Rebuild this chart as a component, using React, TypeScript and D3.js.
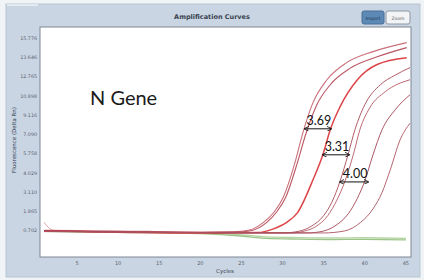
import * as d3 from "d3"

// cycles on x, fluorescence in "tick index" units on y (the instrument's tick labels are not evenly valued)
const yTickLabels = ["0.702", "1.865", "3.110", "4.029", "5.758", "7.090", "9.116", "10.898", "12.765", "13.646", "15.776"]
const xTicks = [5, 10, 15, 20, 25, 30, 35, 40, 45]

type Pt = [number, number]

const curveC1: Pt[] = [[1, 0.04], [10, 0.0], [20, -0.05], [24, -0.04], [26, 0.05], [27.6, 0.42], [29, 1.0], [30.1, 1.77], [31.5, 3.54], [32.4, 5.0], [33.7, 6.67], [35.4, 7.86], [37.8, 8.75], [41.0, 9.32], [45.1, 9.79]]
const curveC2: Pt[] = [[1, 0.0], [20, -0.08], [24.3, -0.06], [26.3, 0.03], [28.0, 0.42], [29.3, 1.0], [30.4, 1.77], [31.8, 3.54], [32.8, 5.0], [34.1, 6.5], [35.8, 7.6], [38.2, 8.45], [41.5, 9.05], [45.1, 9.53]]
const curveC3: Pt[] = [[1, 0.02], [20, -0.1], [27, -0.08], [28.8, 0.1], [30.5, 0.45], [31.8, 0.94], [33.7, 2.66], [34.9, 3.96], [35.8, 5.26], [37.0, 6.46], [39.1, 7.86], [41.5, 8.65], [45.1, 9.0]]
const curveC4: Pt[] = [[1, 0.0], [30, -0.1], [32.1, 0.0], [33.5, 0.25], [35.0, 0.8], [36.0, 1.5], [37.0, 2.6], [37.96, 3.96], [38.8, 5.26], [40.0, 6.56], [41.9, 7.6], [43.7, 8.1], [45.5, 8.49]]
const curveC5: Pt[] = [[1, -0.02], [31, -0.1], [32.7, 0.0], [34.0, 0.22], [35.5, 0.8], [36.6, 1.6], [37.6, 2.6], [38.6, 3.96], [39.4, 5.26], [40.6, 6.4], [42.5, 7.24], [45.5, 7.86]]
const curveC6: Pt[] = [[1, 0.0], [33, -0.1], [35, 0.0], [36.5, 0.3], [38.0, 0.9], [39.1, 1.7], [40.0, 2.6], [41.0, 3.96], [42.1, 5.26], [43.7, 6.3], [45.5, 7.08]]
const curveC7: Pt[] = [[1, -0.03], [35, -0.1], [37.5, 0.0], [39.5, 0.45], [41.0, 1.15], [42.1, 2.0], [43.1, 3.18], [44.3, 4.74], [45.5, 5.6]]
const curveStart: Pt[] = [[1, 0.45], [2, 0.05], [3, 0.0], [10, -0.05], [20, -0.1]]
const greenA: Pt[] = [[1, 0.0], [10, -0.05], [20, -0.1], [25, -0.2], [28, -0.3], [32, -0.34], [36, -0.36], [40, -0.35], [45, -0.38]]
const greenB: Pt[] = [[1, -0.02], [10, -0.07], [20, -0.14], [25, -0.26], [28, -0.38], [32, -0.42], [36, -0.44], [40, -0.43], [45, -0.46]]

const redCurves = [
  { pts: curveC1, color: "#c4606c", w: 1.1 },
  { pts: curveC2, color: "#b34451", w: 1.1 },
  { pts: curveC3, color: "#d83034", w: 1.5 },
  { pts: curveC4, color: "#a84a58", w: 1 },
  { pts: curveC5, color: "#b45864", w: 1 },
  { pts: curveC6, color: "#a04654", w: 1 },
  { pts: curveC7, color: "#ac5260", w: 1 },
]

// delta Ct annotations
const deltaLabels = ["3.69", "3.31", "4.00"]
const deltaFrom = [32.7, 34.9, 37.0]
const deltaTo = [35.9, 38.1, 40.4]
const deltaLevel = [5.31, 3.96, 2.55]

export default function App() {
  const width = 424
  const height = 280
  const plot = { left: 40, right: 411, top: 27, bottom: 257 }

  const x = d3.scaleLinear().domain([0.5, 45.5]).range([plot.left, plot.right - 1])
  const y = d3.scaleLinear().domain([-1.35, 10.6]).range([plot.bottom, plot.top])

  const line = d3
    .line<Pt>()
    .x((d) => x(d[0]))
    .y((d) => y(d[1]))
    .curve(d3.curveMonotoneX)

  return (
    <div>
      <style>{`body{margin:0}`}</style>
      <svg width={width} height={height} style={{ display: "block", fontFamily: "'DejaVu Sans', sans-serif" }}>
        <defs>
          <clipPath id="plotClip">
            <rect x={plot.left} y={plot.top} width={plot.right - plot.left} height={plot.bottom - plot.top} />
          </clipPath>
          <filter id="soft" x="-5%" y="-5%" width="110%" height="110%">
            <feGaussianBlur stdDeviation={0.35} />
          </filter>
          <marker id="arr" viewBox="0 0 6 6" refX={5} refY={3} markerWidth={5} markerHeight={5} orient="auto-start-reverse">
            <path d="M0,0 L6,3 L0,6" fill="none" stroke="#111" strokeWidth={1} />
          </marker>
        </defs>
        <rect x={0} y={0} width={width} height={height} fill="#f1f4f7" />
        <rect x={6} y={4} width={414} height={273} fill="#c9d5e2" stroke="#b7c4d2" />
        <line x1={7} x2={38} y1={5} y2={5} stroke="#eef2f6" strokeWidth={1.5} />

        <text x={212} y={19} textAnchor="middle" fontSize={6.5} fontWeight="bold" fill="#3a4350">
          Amplification Curves
        </text>
        <rect x={362} y={11} width={22} height={13} rx={2} fill="#5c89b6" stroke="#4a6f96" />
        <text x={373} y={19.5} textAnchor="middle" fontSize={4.5} fill="#1e3550">Import</text>
        <rect x={386} y={11} width={24} height={13} rx={2} fill="#f2f4f6" stroke="#8d98a5" />
        <text x={398} y={19.5} textAnchor="middle" fontSize={4.5} fill="#555">Zoom</text>

        <rect x={plot.left} y={plot.top} width={plot.right - plot.left} height={plot.bottom - plot.top} fill="#ffffff" stroke="#7d8894" />

        {yTickLabels.map((t, i) => (
          <text key={t} x={plot.left - 3} y={y(i)} textAnchor="end" dominantBaseline="middle" fontSize={4.8} fill="#5a6270">
            {t}
          </text>
        ))}
        {xTicks.map((t) => (
          <text key={t} x={x(t)} y={265} textAnchor="middle" fontSize={5} fill="#5a6270">
            {t}
          </text>
        ))}
        <text x={225} y={273} textAnchor="middle" fontSize={5.5} fill="#3a4350">Cycles</text>
        <text transform={`translate(16, 140) rotate(-90)`} textAnchor="middle" fontSize={5.5} fill="#2c3a50">
          Fluorescence (Delta Rn)
        </text>

        <g clipPath="url(#plotClip)" fill="none">
          <g filter="url(#soft)">
            {[greenA, greenB].map((pts, i) => (
              <path key={"g" + i} d={line(pts) ?? ""} stroke={i ? "#9cc48a" : "#b4d4a0"} strokeWidth={1.3} />
            ))}
            <path d={line(curveStart) ?? ""} stroke="#e0a0a8" strokeWidth={1} />
            {redCurves.map((c, i) => (
              <path key={i} d={line(c.pts) ?? ""} stroke={c.color} strokeWidth={c.w} strokeOpacity={0.9} />
            ))}
          </g>
        </g>

        <text x={90} y={105} fontSize={20} fontFamily="Lato, 'Open Sans', sans-serif" fill="#1a1a1a">
          N Gene
        </text>

        {deltaLabels.map((t, i) => (
          <g key={t}>
            <line
              x1={x(deltaFrom[i])}
              x2={x(deltaTo[i])}
              y1={y(deltaLevel[i])}
              y2={y(deltaLevel[i])}
              stroke="#111"
              strokeWidth={1}
              markerStart="url(#arr)"
              markerEnd="url(#arr)"
            />
            <text
              x={(x(deltaFrom[i]) + x(deltaTo[i])) / 2 + 1}
              y={y(deltaLevel[i]) - 4}
              textAnchor="middle"
              fontSize={12.5}
              fontFamily="Lato, 'Open Sans', sans-serif"
              fill="#111"
            >
              {t}
            </text>
          </g>
        ))}
      </svg>
    </div>
  )
}
